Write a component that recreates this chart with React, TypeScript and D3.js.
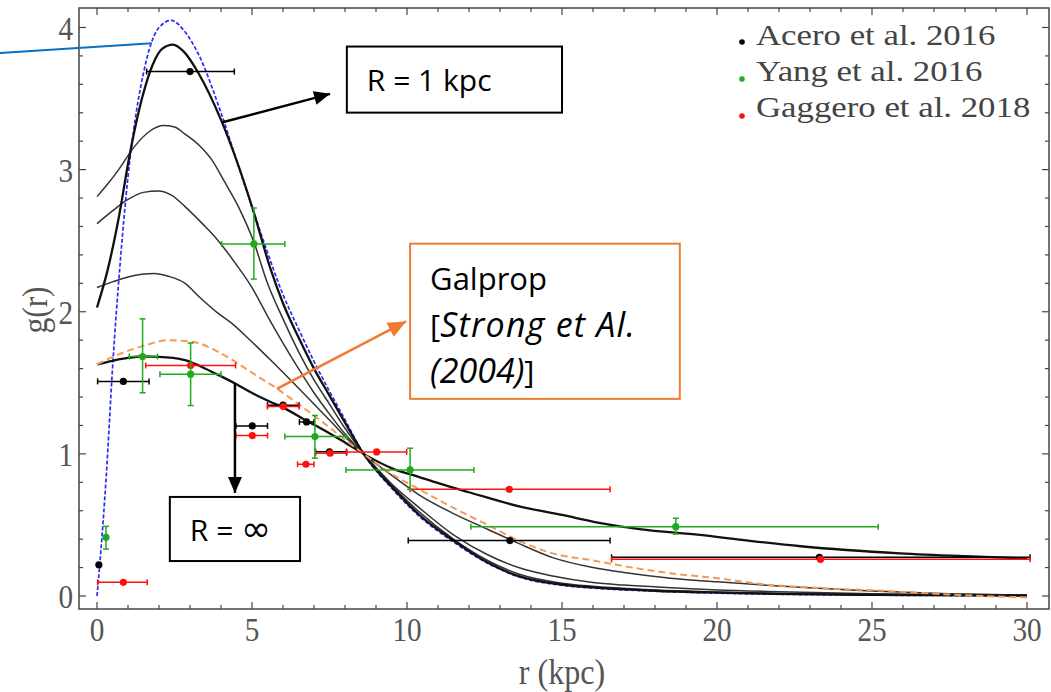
import React from 'react';
import * as d3 from 'd3';

const W = 1051;
const H = 692;
const frame = { left: 79, right: 1049, top: 8, bottom: 609 };

const X_TICKS = [0, 5, 10, 15, 20, 25, 30];
const Y_TICKS = [0, 1, 2, 3, 4];

// model curves, [r (kpc), g(r)]
const BLUE_DASHED = [
  [0, 0], [0.1, 0.25], [0.3, 0.85], [0.5, 1.6], [0.75, 2.35], [1.0, 2.95], [1.25, 3.38],
  [1.5, 3.68], [1.75, 3.89], [2.0, 4.0], [2.4, 4.05], [2.8, 3.98], [3.3, 3.8], [4.0, 3.4],
  [4.6, 3.0], [5.4, 2.48], [6.0, 2.12], [6.5, 1.88], [7.0, 1.65], [7.5, 1.44], [8.0, 1.24],
  [8.6, 1.0], [9.5, 0.76], [10.4, 0.56], [11.5, 0.38], [12.6, 0.23], [13.6, 0.135], [15, 0.075],
  [16, 0.056], [18, 0.034], [20, 0.02], [22, 0.012], [25, 0.006], [30, 0.002],
];
const R_ONE = [
  [0, 2.03], [0.35, 2.3], [0.7, 2.66], [1.05, 3.1], [1.45, 3.5], [1.8, 3.74], [2.1, 3.85],
  [2.45, 3.88], [2.8, 3.83], [3.27, 3.68], [4.0, 3.35], [5.0, 2.74], [5.6, 2.3], [6.0, 2.06],
  [6.5, 1.82], [7.0, 1.6], [7.5, 1.41], [8.0, 1.22], [8.6, 1.0], [9.5, 0.77], [10.4, 0.57],
  [11.5, 0.39], [12.6, 0.235], [13.6, 0.14], [15, 0.08], [16, 0.06], [18, 0.037], [20, 0.024],
  [22, 0.015], [25, 0.008], [30, 0.003],
];
const CURVE_A = [
  [0, 2.81], [0.35, 2.9], [0.7, 3.0], [1.2, 3.16], [1.7, 3.27], [2.14, 3.31], [2.5, 3.3],
  [2.84, 3.25], [3.3, 3.17], [3.7, 3.07], [4.1, 2.92], [4.56, 2.74], [5.06, 2.49], [5.5, 2.2],
  [6.0, 1.95], [6.5, 1.72], [7.0, 1.52], [7.5, 1.35], [8.0, 1.18], [8.6, 1.0], [9.5, 0.78],
  [10.4, 0.59], [11.5, 0.4], [12.6, 0.25], [13.6, 0.155], [15, 0.09], [16, 0.068], [18, 0.042],
  [20, 0.028], [22, 0.018], [25, 0.01], [30, 0.004],
];
const CURVE_B = [
  [0, 2.62], [0.5, 2.71], [1.0, 2.79], [1.5, 2.84], [1.98, 2.85], [2.4, 2.82], [2.84, 2.74],
  [3.4, 2.62], [3.91, 2.5], [4.5, 2.33], [5.0, 2.17], [5.5, 1.97], [6.0, 1.78], [6.5, 1.6],
  [7.0, 1.43], [7.5, 1.28], [8.0, 1.14], [8.6, 1.0], [9.5, 0.79], [10.4, 0.62], [11.5, 0.43],
  [12.6, 0.29], [13.6, 0.2], [14.7, 0.14], [16, 0.095], [17, 0.077], [18.5, 0.058], [20, 0.042],
  [22, 0.03], [25, 0.015], [30, 0.005],
];
const CURVE_C = [
  [0, 2.17], [0.5, 2.21], [1.0, 2.245], [1.5, 2.265], [1.85, 2.27], [2.3, 2.25], [2.84, 2.2],
  [3.32, 2.1], [3.9, 1.99], [4.34, 1.92], [4.94, 1.8], [5.6, 1.66], [6.33, 1.5], [7.0, 1.35],
  [7.62, 1.21], [8.1, 1.1], [8.6, 1.0], [9.5, 0.85], [10.4, 0.71], [11.5, 0.58], [12.6, 0.47],
  [13.6, 0.37], [14.7, 0.27], [16, 0.2], [17, 0.165], [18.5, 0.125], [20, 0.1], [22, 0.07],
  [25, 0.035], [27, 0.02], [30, 0.008],
];
const R_INF = [
  [0, 1.63], [0.5, 1.655], [1.0, 1.675], [1.5, 1.685], [2.0, 1.683], [2.84, 1.66], [3.4, 1.61],
  [3.91, 1.556], [4.5, 1.49], [4.99, 1.43], [5.5, 1.375], [6.06, 1.32], [6.7, 1.24], [7.3, 1.17],
  [8.0, 1.08], [8.6, 1.0], [9.5, 0.9], [10.4, 0.836], [11.06, 0.79], [12, 0.73], [13.65, 0.629],
  [15, 0.57], [16.2, 0.515], [17.5, 0.47], [19.45, 0.43], [21, 0.39], [22.7, 0.35], [25.9, 0.3],
  [28, 0.28], [30, 0.265],
];
const GALPROP = [
  [0, 1.63], [0.7, 1.7], [1.5, 1.76], [2.3, 1.8], [2.8, 1.795], [3.27, 1.78], [3.8, 1.73],
  [4.3, 1.67], [4.8, 1.6], [5.3, 1.53], [5.8, 1.46], [6.5, 1.35], [7.3, 1.22], [8.0, 1.1],
  [8.6, 1.0], [9.5, 0.86], [10.4, 0.75], [11.5, 0.62], [12.6, 0.5], [13.6, 0.39], [14.7, 0.3],
  [16, 0.25], [17, 0.21], [18.5, 0.16], [20, 0.125], [21.6, 0.08], [23, 0.06], [25.5, 0.035],
  [28, 0.005], [30, -0.01],
];

// data points: [r, g, xlo, xhi, ylo, yhi]
const ACERO = [
  [0.06, 0.22, null, null, null, null],
  [0.85, 1.51, 0.02, 1.68, null, null],
  [3.0, 3.69, 1.6, 4.43, null, null],
  [5.01, 1.197, 4.48, 5.5, null, null],
  [6.76, 1.225, 6.53, 7.0, null, null],
  [6.0, 1.343, 5.5, 6.52, null, null],
  [7.5, 1.015, 7.05, 8.05, null, null],
  [13.32, 0.39, 10.04, 16.55, null, null],
  [23.3, 0.272, 16.6, 30.1, null, null],
];
const YANG = [
  [0.29, 0.413, null, null, 0.33, 0.49],
  [1.47, 1.685, 1.04, 1.95, 1.43, 1.95],
  [3.02, 1.561, 2.03, 4.0, 1.34, 1.78],
  [5.06, 2.477, 4.02, 6.06, 2.23, 2.73],
  [7.03, 1.122, 6.06, 8.05, 0.97, 1.27],
  [10.1, 0.887, 8.03, 12.16, 0.75, 1.04],
  [18.67, 0.488, 12.06, 25.2, 0.436, 0.547],
];
const GAGGERO = [
  [0.85, 0.096, 0.02, 1.62, null, null],
  [3.02, 1.622, 1.57, 4.47, null, null],
  [5.01, 1.129, 4.48, 5.5, null, null],
  [6.01, 1.333, 5.5, 6.52, null, null],
  [6.74, 0.927, 6.47, 7.0, null, null],
  [7.52, 1.005, 7.05, 8.05, null, null],
  [9.02, 1.014, 8.05, 9.99, null, null],
  [13.3, 0.751, 10.1, 16.55, null, null],
  [23.34, 0.258, 16.6, 30.1, null, null],
];

const LEGEND = ['Acero et al. 2016', 'Yang et al. 2016', 'Gaggero et al. 2018'];
const SERIES_COLORS = ['#000000', '#1faa1f', '#ff1010'];

const BLACK_CURVES = [
  { pts: CURVE_A, w: 1.5, c: '#333' },
  { pts: CURVE_B, w: 1.5, c: '#333' },
  { pts: CURVE_C, w: 1.5, c: '#333' },
  { pts: R_ONE, w: 2.3, c: '#111' },
  { pts: R_INF, w: 2.3, c: '#111' },
];

function arrowHead(x1: number, y1: number, x2: number, y2: number, len: number, half: number) {
  const a = Math.atan2(y2 - y1, x2 - x1);
  const bx = x2 - len * Math.cos(a);
  const by = y2 - len * Math.sin(a);
  const px = -Math.sin(a) * half;
  const py = Math.cos(a) * half;
  return `${x2},${y2} ${bx + px},${by + py} ${bx - px},${by - py}`;
}

export default function App() {
  const x = d3.scaleLinear().domain([0, 30]).range([97, 1027]);
  const y = d3.scaleLinear().domain([0, 4]).range([596, 27.5]);
  const line = d3.line<number[]>()
    .x(d => x(d[0]))
    .y(d => y(d[1]))
    .curve(d3.curveMonotoneX);

  const minorX = d3.range(0, 31, 1);
  const minorY = d3.range(0, 21).map(i => i * 0.2);

  const tickFont = '"Liberation Serif", "DejaVu Serif", serif';
  const boxFont = '"Open Sans", Lato, sans-serif';

  // serif label squeezed or stretched sideways, like the original's thin tall digits
  const label = (key: string, tx: number, ty: number, s: string, anchor: string, size = 34, sx = 0.86, fill = '#555') => (
    <g key={key} transform={`translate(${tx},${ty}) scale(${sx},1)`}>
      <text textAnchor={anchor} fontFamily={tickFont} fontSize={size} fill={fill}>{s}</text>
    </g>
  );

  const renderSeries = (rows: any[], color: string, key: string) => (
    <g key={key}>
      {rows.map((d, i) => (
        <g key={i}>
          {d[2] != null && (
            <g stroke={color} strokeWidth={1.5}>
              <line x1={x(d[2])} x2={x(d[3])} y1={y(d[1])} y2={y(d[1])} />
              <line x1={x(d[2])} x2={x(d[2])} y1={y(d[1]) - 3} y2={y(d[1]) + 3} />
              <line x1={x(d[3])} x2={x(d[3])} y1={y(d[1]) - 3} y2={y(d[1]) + 3} />
            </g>
          )}
          {d[4] != null && (
            <g stroke={color} strokeWidth={1.5}>
              <line x1={x(d[0])} x2={x(d[0])} y1={y(d[4])} y2={y(d[5])} />
              <line x1={x(d[0]) - 3} x2={x(d[0]) + 3} y1={y(d[4])} y2={y(d[4])} />
              <line x1={x(d[0]) - 3} x2={x(d[0]) + 3} y1={y(d[5])} y2={y(d[5])} />
            </g>
          )}
          <circle cx={x(d[0])} cy={y(d[1])} r={3.6} fill={color} />
        </g>
      ))}
    </g>
  );

  // annotation anchors, in data units
  const r1From = [4.05, 3.333], r1To = [7.52, 3.533];
  const infFrom = [4.45, 1.498], infTo = [4.45, 0.725];
  const galFrom = [5.8, 1.458], galTo = [9.97, 1.932];
  const blueFrom = [-3.13, 3.82], blueTo = [1.77, 3.89];

  return (
    <svg width={W} height={H} style={{ position: 'absolute', left: 0, top: 0, background: '#fff' }}>
      {/* curves */}
      <path d={line(BLUE_DASHED) || ''} fill="none" stroke="#2a2aff" strokeWidth={1.7} strokeDasharray="4 2" />
      {BLACK_CURVES.map((c, i) => (
        <path key={i} d={line(c.pts) || ''} fill="none" stroke={c.c} strokeWidth={c.w} />
      ))}
      <path d={line(GALPROP) || ''} fill="none" stroke="#f59a55" strokeWidth={2} strokeDasharray="7 4" />

      {/* data */}
      {renderSeries(ACERO, SERIES_COLORS[0], 'acero')}
      {renderSeries(GAGGERO, SERIES_COLORS[2], 'gaggero')}
      {renderSeries(YANG, SERIES_COLORS[1], 'yang')}

      {/* frame */}
      <rect x={frame.left} y={frame.top} width={frame.right - frame.left} height={frame.bottom - frame.top}
        fill="none" stroke="#444" strokeWidth={1.5} />
      {minorX.map(t => {
        const len = t % 5 === 0 ? 7 : 4;
        return (
          <g key={'x' + t} stroke="#444" strokeWidth={1.2}>
            <line x1={x(t)} x2={x(t)} y1={frame.bottom} y2={frame.bottom - len} />
            <line x1={x(t)} x2={x(t)} y1={frame.top} y2={frame.top + len} />
          </g>
        );
      })}
      {minorY.map((t, i) => {
        const len = i % 5 === 0 ? 7 : 4;
        return (
          <g key={'y' + i} stroke="#444" strokeWidth={1.2}>
            <line x1={frame.left} x2={frame.left + len} y1={y(t)} y2={y(t)} />
            <line x1={frame.right} x2={frame.right - len} y1={y(t)} y2={y(t)} />
          </g>
        );
      })}
      {X_TICKS.map(t => label('xl' + t, x(t), 641, String(t), 'middle'))}
      {Y_TICKS.map(t => label('yl' + t, 73, y(t) + 12, String(t), 'end'))}
      {label('xt', 562, 684, 'r (kpc)', 'middle', 35, 0.92)}
      <g transform="translate(47,310) rotate(-90) scale(0.9,1)">
        <text textAnchor="middle" fontFamily={tickFont} fontSize={35} fill="#555">g(r)</text>
      </g>

      {/* legend */}
      {LEGEND.map((s, i) => (
        <g key={s}>
          <circle cx={742} cy={42 + i * 37} r={2.8} fill={SERIES_COLORS[i]} />
          {label('lg' + i, 756, 45 + i * 36, s, 'start', 30, 1.16, '#444')}
        </g>
      ))}

      {/* annotations */}
      <line x1={x(blueFrom[0])} y1={y(blueFrom[1])} x2={x(blueTo[0])} y2={y(blueTo[1])} stroke="#0a70c0" strokeWidth={2} />

      <line x1={x(r1From[0])} y1={y(r1From[1])} x2={x(r1To[0])} y2={y(r1To[1])} stroke="#000" strokeWidth={2.5} />
      <polygon points={arrowHead(x(r1From[0]), y(r1From[1]), x(r1To[0]), y(r1To[1]), 16, 7)} fill="#000" />
      <rect x={x(8.06)} y={y(3.866)} width={x(15.0) - x(8.06)} height={y(3.401) - y(3.866)} fill="#fff" stroke="#000" strokeWidth={2} />
      <text x={x(8.06) + 20} y={y(3.866) + 44} fontFamily={boxFont} fontSize={30} fill="#000">R = 1 kpc</text>

      <line x1={x(infFrom[0])} y1={y(infFrom[1])} x2={x(infTo[0])} y2={y(infTo[1])} stroke="#000" strokeWidth={2.5} />
      <polygon points={arrowHead(x(infFrom[0]), y(infFrom[1]), x(infTo[0]), y(infTo[1]), 16, 7)} fill="#000" />
      <rect x={x(2.35)} y={y(0.697)} width={x(6.55) - x(2.35)} height={y(0.246) - y(0.697)} fill="#fff" stroke="#000" strokeWidth={2} />
      <text x={x(2.35) + 20} y={y(0.697) + 44} fontFamily={boxFont} fontSize={30} fill="#000">
        R = <tspan fontFamily='"DejaVu Sans", sans-serif' fontSize={36}>∞</tspan>
      </text>

      <line x1={x(galFrom[0])} y1={y(galFrom[1])} x2={x(galTo[0])} y2={y(galTo[1])} stroke="#f07a30" strokeWidth={2.5} />
      <polygon points={arrowHead(x(galFrom[0]), y(galFrom[1]), x(galTo[0]), y(galTo[1]), 18, 8)} fill="#f07a30" />
      <rect x={x(10.1)} y={y(2.479)} width={x(18.8) - x(10.1)} height={y(1.387) - y(2.479)} fill="#fff" stroke="#ed7d31" strokeWidth={2} />
      <text fontFamily={boxFont} fontSize={31} fill="#000">
        <tspan x={x(10.1) + 20} y={y(2.479) + 46}>Galprop</tspan>
        <tspan x={x(10.1) + 20} y={y(2.479) + 93}>[<tspan fontStyle="italic" fontSize={34} letterSpacing={1.2}>Strong et Al.</tspan></tspan>
        <tspan x={x(10.1) + 20} y={y(2.479) + 139}><tspan fontStyle="italic" fontSize={34}>(2004)</tspan>]</tspan>
      </text>
    </svg>
  );
}
